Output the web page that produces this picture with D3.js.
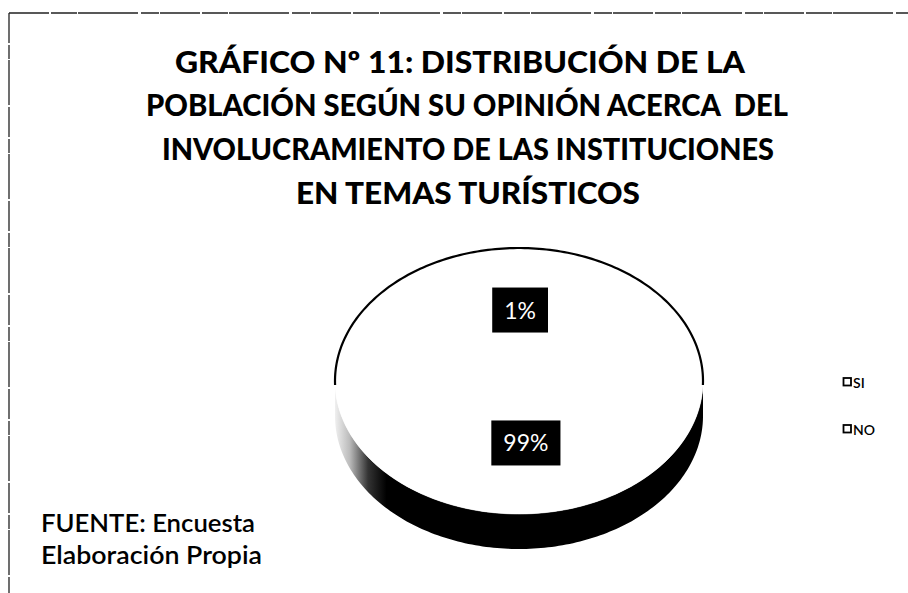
<!DOCTYPE html>
<html>
<head>
<meta charset="utf-8">
<script src="https://cdn.jsdelivr.net/npm/d3@7"></script>
<style>
  body { margin: 0; background: #fff; }
  svg { display: block; }
  text { font-family: Lato, "Open Sans", sans-serif; white-space: pre; }
</style>
</head>
<body>
<div id="chart"></div>
<script>
// chart data
var categories = ["SI", "NO"];
var values = [1, 99];
var valueLabels = ["1%", "99%"];
var titleLines = [
    "GRÁFICO Nº 11: DISTRIBUCIÓN DE LA",
    "POBLACIÓN SEGÚN SU OPINIÓN ACERCA  DEL",
    "INVOLUCRAMIENTO DE LAS INSTITUCIONES",
    "EN TEMAS TURÍSTICOS"
];
var sourceLines = ["FUENTE: Encuesta", "Elaboración Propia"];

var width = 908, height = 593;
var svg = d3.select("#chart").append("svg")
    .attr("width", width)
    .attr("height", height);

var defs = svg.append("defs");
var grad = defs.append("linearGradient")
    .attr("id", "sideShade")
    .attr("gradientUnits", "userSpaceOnUse")
    .attr("x1", 335).attr("x2", 703).attr("y1", 0).attr("y2", 0);
grad.append("stop").attr("offset", "0").attr("stop-color", "#f0f0f0");
grad.append("stop").attr("offset", "0.04").attr("stop-color", "#bbb");
grad.append("stop").attr("offset", "0.09").attr("stop-color", "#333");
grad.append("stop").attr("offset", "0.14").attr("stop-color", "#000");
grad.append("stop").attr("offset", "1").attr("stop-color", "#000");

// scanned frame
svg.append("line")
    .attr("x1", 9).attr("y1", 13).attr("x2", width).attr("y2", 13)
    .attr("stroke", "#222").attr("stroke-width", 1.3)
    .attr("stroke-dasharray", "40 2 26 1 60 3 18 1");
svg.append("line")
    .attr("x1", 9).attr("y1", 13).attr("x2", 9).attr("y2", height)
    .attr("stroke", "#222").attr("stroke-width", 1.3)
    .attr("stroke-dasharray", "30 2 14 1 45 2");

// set each line to the width it has in the picture
function fitWidths(sel, widths) {
    sel.attr("textLength", function (d, i) { return widths[i]; })
        .attr("lengthAdjust", "spacingAndGlyphs");
}

// title
var titleBase = [73, 116, 160, 204];
var titleWidths = [570, 642, 612, 344];
var titleX = [460, 467, 468, 468];
var t = svg.append("g").selectAll("text").data(titleLines).enter().append("text")
    .attr("x", function (d, i) { return titleX[i]; })
    .attr("y", function (d, i) { return titleBase[i]; })
    .attr("text-anchor", "middle")
    .attr("font-weight", 900)
    .attr("font-size", 30)
    .attr("fill", "#000")
    .text(function (d) { return d; });
fitWidths(t, titleWidths);

// pie
var cx = 519, cy = 381, rx = 184, ry = 133, depth = 35;
var firstAngle = -2 * Math.PI * values[0] / d3.sum(values);
var pie = d3.pie().sort(null)
    .startAngle(firstAngle).endAngle(firstAngle + 2 * Math.PI)
    .value(function (d) { return d; });
var arcs = pie(values);

function pt(a, dy) {
    return [cx + rx * Math.sin(a), cy - ry * Math.cos(a) + (dy || 0)];
}
function sample(a0, a1, dy) {
    var n = Math.max(2, Math.ceil(Math.abs(a1 - a0) / 0.02));
    return d3.range(n + 1).map(function (i) { return pt(a0 + (a1 - a0) * i / n, dy); });
}
var line = d3.line();

var pieG = svg.append("g");

// sides (front half only, angles PI/2 .. 3PI/2)
arcs.forEach(function (d) {
    var a0 = Math.max(d.startAngle, Math.PI / 2);
    var a1 = Math.min(d.endAngle, 3 * Math.PI / 2);
    if (a1 <= a0) return;
    var pts = sample(a0, a1, 0).concat(sample(a1, a0, depth));
    pieG.append("path")
        .attr("d", line(pts) + "Z")
        .attr("fill", "url(#sideShade)");
});

// top face slices
pieG.selectAll("path.slice").data(arcs).enter().append("path")
    .attr("class", "slice")
    .attr("d", function (d) {
        return line([[cx, cy]].concat(sample(d.startAngle, d.endAngle, 0))) + "Z";
    })
    .attr("fill", "#fff")
    .attr("stroke", "#fff")
    .attr("stroke-width", 0.5);

// top rim outline
pieG.append("path")
    .attr("d", line(sample(-Math.PI / 2 - 0.03, Math.PI / 2 + 0.03, 0)))
    .attr("fill", "none")
    .attr("stroke", "#000")
    .attr("stroke-width", 2.2);

// data labels
var lab = pieG.selectAll("g.lab").data(arcs).enter().append("g").attr("class", "lab");
lab.each(function (d, i) {
    var g = d3.select(this);
    var mid = (d.startAngle + d.endAngle) / 2;
    var p = [cx + rx * 0.5 * Math.sin(mid) + 4, cy - ry * 0.5 * Math.cos(mid) - 5];
    var txt = g.append("text")
        .attr("x", p[0]).attr("y", p[1])
        .attr("text-anchor", "middle")
        .attr("dominant-baseline", "central")
        .attr("font-size", 23)
        .attr("fill", "#fff")
        .text(valueLabels[i]);
    var bb = txt.node().getBBox();
    g.insert("rect", "text")
        .attr("x", bb.x - 12).attr("y", p[1] - 22)
        .attr("width", bb.width + 24).attr("height", 45)
        .attr("fill", "#000");
});

// legend
var legend = svg.append("g").attr("transform", "translate(843,0)");
var legY = [382, 429];
var item = legend.selectAll("g").data(categories).enter().append("g")
    .attr("transform", function (d, i) { return "translate(0," + legY[i] + ")"; });
item.append("rect")
    .attr("x", 0.5).attr("y", -4).attr("width", 7.5).attr("height", 7.5)
    .attr("fill", "#fff").attr("stroke", "#000").attr("stroke-width", 1.8);
item.append("text")
    .attr("x", 10).attr("y", 0.5)
    .attr("dominant-baseline", "central")
    .attr("font-size", 14)
    .attr("font-weight", 600)
    .attr("fill", "#000")
    .text(function (d) { return d; });

// source note
var s = svg.append("g").selectAll("text").data(sourceLines).enter().append("text")
    .attr("x", 41)
    .attr("y", function (d, i) { return 532 + i * 32; })
    .attr("font-size", 25)
    .attr("font-weight", 600)
    .attr("fill", "#000")
    .text(function (d) { return d; });
fitWidths(s, [214, 221]);
</script>
</body>
</html>
